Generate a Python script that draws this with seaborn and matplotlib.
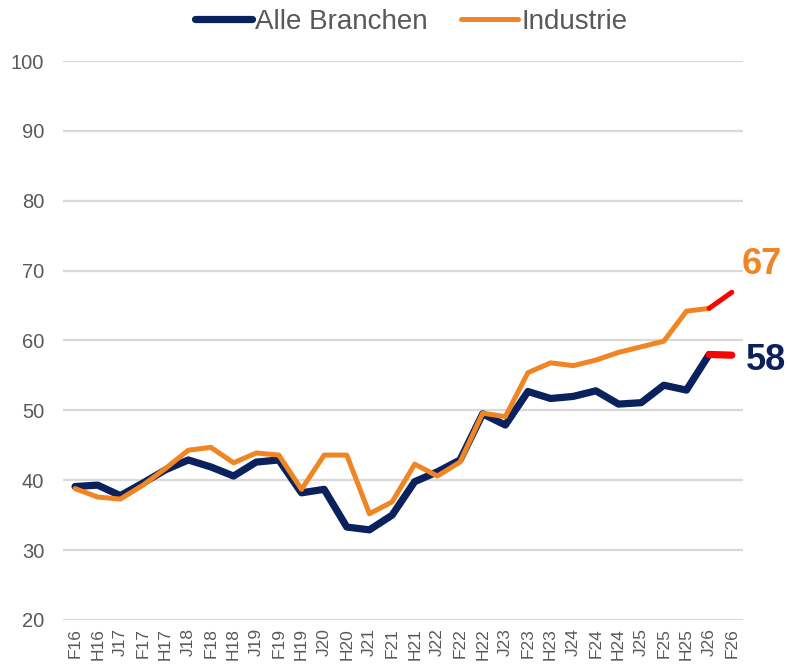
import matplotlib
matplotlib.use("Agg")
import matplotlib.pyplot as plt
import seaborn as sns
import pandas as pd

periods = ["F16", "H16", "J17", "F17", "H17", "J18", "F18", "H18", "J19", "F19",
           "H19", "J20", "H20", "J21", "F21", "H21", "J22", "F22", "H22", "J23",
           "F23", "H23", "J24", "F24", "H24", "J25", "F25", "H25", "J26", "F26"]
alle_branchen = [39.1, 39.3, 37.8, 39.6, 41.5, 42.9, 41.9, 40.6, 42.6, 42.9,
                 38.2, 38.7, 33.3, 32.9, 35.0, 39.8, 41.2, 42.9, 49.5, 47.9,
                 52.7, 51.7, 52.0, 52.8, 50.9, 51.1, 53.6, 52.9, 58.0, 57.9]
industrie = [38.8, 37.6, 37.3, 39.3, 41.7, 44.3, 44.7, 42.5, 43.9, 43.6,
             38.7, 43.6, 43.6, 35.2, 36.9, 42.3, 40.6, 42.6, 49.6, 49.1,
             55.4, 56.8, 56.4, 57.2, 58.3, 59.1, 59.9, 64.2, 64.6, 66.9]
end_labels = {"Alle Branchen": "58", "Industrie": "67"}

NAVY = "#0B215E"
ORANGE = "#EF8523"
RED = "#FF0000"
GREY = "#595959"

sns.set_theme(style="white")
plt.rcParams["font.family"] = ["Liberation Sans", "DejaVu Sans"]

idx = list(range(len(periods)))
df_a = pd.DataFrame({"i": idx, "v": alle_branchen})
df_i = pd.DataFrame({"i": idx, "v": industrie})

fig = plt.figure(figsize=(7.88, 6.64), dpi=100)
ax = fig.add_axes([0.080, 0.0663, 0.863, 0.8418])

n = len(periods)
# main lines (up to the second-to-last point)
sns.lineplot(data=df_a.iloc[:n - 1], x="i", y="v", ax=ax, color=NAVY, lw=5.2,
             solid_capstyle="round", solid_joinstyle="round", label="Alle Branchen", zorder=3)
sns.lineplot(data=df_i.iloc[:n - 1], x="i", y="v", ax=ax, color=ORANGE, lw=3.6,
             solid_capstyle="round", solid_joinstyle="round", label="Industrie", zorder=4)
# forecast segments in red
sns.lineplot(data=df_a.iloc[n - 2:], x="i", y="v", ax=ax, color=RED, lw=5.2,
             solid_capstyle="round", legend=False, zorder=3)
sns.lineplot(data=df_i.iloc[n - 2:], x="i", y="v", ax=ax, color=RED, lw=3.6,
             solid_capstyle="round", legend=False, zorder=4)

ax.set_xlim(-0.53, n - 1 + 0.5)
ax.set_ylim(20, 100)
ax.set_yticks(range(20, 101, 10))
ax.set_xticks(idx)
ax.set_xticklabels(periods, rotation=90)
ax.set_xlabel("")
ax.set_ylabel("")
ax.grid(axis="y", color="#D9D9D9", lw=1.6)
ax.grid(axis="x", visible=False)
for s in ax.spines.values():
    s.set_visible(False)
ax.tick_params(axis="y", labelsize=14.5, colors=GREY, pad=13.5, length=0)
ax.tick_params(axis="x", labelsize=12.5, colors=GREY, pad=6, length=0)

ax.text(n - 1 + 0.45, 70.9, end_labels["Industrie"], color=ORANGE, fontsize=26,
        fontweight="bold", ha="left", va="center")
ax.text(n - 1 + 0.62, 57.1, end_labels["Alle Branchen"], color=NAVY, fontsize=26,
        fontweight="bold", ha="left", va="center")

leg = ax.legend(loc="center", bbox_to_anchor=(411 / 788, 1 - 22 / 664),
                bbox_transform=fig.transFigure, ncol=2, frameon=False,
                fontsize=20, handlelength=2.05, handletextpad=0.12, columnspacing=1.2,
                borderpad=0.1)
for t in leg.get_texts():
    t.set_color(GREY)
for h in leg.get_lines():
    h.set_solid_capstyle("round")

fig.savefig("out.png", dpi=100, facecolor="white")
